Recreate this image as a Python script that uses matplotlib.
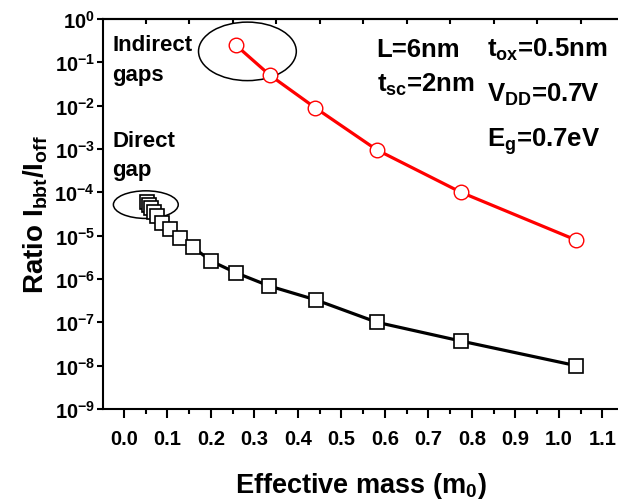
import matplotlib
matplotlib.use('Agg')
import matplotlib.pyplot as plt
from matplotlib.patches import Ellipse
from matplotlib.ticker import FixedLocator, NullLocator, FixedFormatter
import numpy as np

plt.rcParams['font.family'] = ['Liberation Sans', 'DejaVu Sans']
plt.rcParams['font.weight'] = 'bold'
plt.rcParams['axes.labelweight'] = 'bold'
plt.rcParams['mathtext.fontset'] = 'custom'
plt.rcParams['mathtext.rm'] = 'Liberation Sans:bold'
plt.rcParams['mathtext.it'] = 'Liberation Sans:bold'
plt.rcParams['mathtext.bf'] = 'Liberation Sans:bold'
plt.rcParams['mathtext.default'] = 'rm'

# indirect gaps (red circles)
m_ind = [0.257, 0.335, 0.44, 0.581, 0.775, 1.04]
r_ind = [2.5e-1, 5.1e-2, 8.9e-3, 9.6e-4, 1.0e-4, 7.9e-6]

# direct gap (black squares)
m_dir = [0.052, 0.058, 0.063, 0.069, 0.076, 0.088, 0.105, 0.128, 0.159,
         0.200, 0.257, 0.334, 0.441, 0.582, 0.775, 1.04]
r_dir = [6.0e-5, 5.1e-5, 4.3e-5, 3.6e-5, 2.9e-5, 2.0e-5, 1.4e-5, 8.7e-6,
         5.4e-6, 2.6e-6, 1.4e-6, 6.9e-7, 3.3e-7, 1.0e-7, 3.7e-8, 1.0e-8]

xticks = [0.0, 0.1, 0.2, 0.3, 0.4, 0.5, 0.6, 0.7, 0.8, 0.9, 1.0, 1.1]
xtick_labels = ['0.0', '0.1', '0.2', '0.3', '0.4', '0.5', '0.6', '0.7', '0.8', '0.9', '1.0', '1.1']
exps = [-9, -8, -7, -6, -5, -4, -3, -2, -1, 0]
yticks = [10.0**e for e in exps]
ytick_labels = [r'$10^{%d}$' % e for e in exps]

fig = plt.figure(figsize=(6.18, 5.02), dpi=100)
ax = fig.add_axes([103.3/618, 92/502, (618-103.3)/618, 390/502])

ax.plot(m_dir, r_dir, color='black', lw=2.3, marker='s', ms=9.5,
        mfc='white', mec='black', mew=1.2, zorder=3)
ax.plot(m_ind, r_ind, color='#ff0000', lw=2.3, marker='o', ms=10.5,
        mfc='white', mec='#ff0000', mew=1.0, zorder=3)

ax.set_yscale('log')
ax.set_xlim(-0.0476, 1.136)
ax.set_ylim(1e-9, 1e0)

ax.xaxis.set_major_locator(FixedLocator(xticks))
ax.xaxis.set_major_formatter(FixedFormatter(xtick_labels))
ax.xaxis.set_minor_locator(FixedLocator(np.arange(0.05, 1.13, 0.1)))
ax.yaxis.set_major_locator(FixedLocator(yticks))
ax.yaxis.set_major_formatter(FixedFormatter(ytick_labels))
ax.yaxis.set_minor_locator(NullLocator())

for s in ['left', 'bottom', 'top']:
    ax.spines[s].set_linewidth(1.5)
ax.spines['right'].set_visible(False)

ax.tick_params(axis='x', which='major', direction='out', length=6.5, width=1.5,
               labelsize=14.5, pad=8)
ax.tick_params(axis='x', which='minor', direction='out', length=3.5, width=1.5)
ax.tick_params(axis='y', which='major', direction='out', length=4.5, width=1.5,
               labelsize=14.5, pad=1.5)

top = ax.secondary_xaxis('top')
top.set_xticks(np.arange(0.05, 1.13, 0.1))
top.tick_params(direction='in', length=3.5, width=1.5, labeltop=False)
top.spines['top'].set_linewidth(1.5)

ax.set_xlabel(r'Effective mass (m$_0$)', fontsize=19.5, fontweight='bold')
ax.xaxis.set_label_coords(0.5, -0.156)
ax.set_ylabel(r'Ratio I$_{bbt}$/I$_{off}$', fontsize=20, fontweight='bold')
ax.yaxis.set_label_coords(-0.104, 0.5)

ax.add_patch(Ellipse((0.280, 0.917), 0.190, 0.150, transform=ax.transAxes,
                     fill=False, ec='black', lw=1.1))
ax.add_patch(Ellipse((0.0826, 0.524), 0.126, 0.0708, transform=ax.transAxes,
                     fill=False, ec='black', lw=1.1))

ax.text(0.0175, 0.9205, 'Indirect', transform=ax.transAxes, fontsize=16, va='baseline')
ax.text(0.0175, 0.8436, 'gaps', transform=ax.transAxes, fontsize=16, va='baseline')
ax.text(0.0175, 0.675, 'Direct', transform=ax.transAxes, fontsize=16, va='baseline')
ax.text(0.0175, 0.600, 'gap', transform=ax.transAxes, fontsize=16, va='baseline')

ax.text(0.531, 0.9059, 'L=6nm', transform=ax.transAxes, fontsize=18.5, va='baseline')
ax.text(0.531, 0.816, r't$_{sc}$=2nm', transform=ax.transAxes, fontsize=18.5, va='baseline')
ax.text(0.745, 0.9059, r't$_{ox}$=0.5nm', transform=ax.transAxes, fontsize=18.5, va='baseline')
ax.text(0.745, 0.7905, r'V$_{DD}$=0.7V', transform=ax.transAxes, fontsize=18.5, va='baseline')
ax.text(0.745, 0.675, r'E$_g$=0.7eV', transform=ax.transAxes, fontsize=18.5, va='baseline')

fig.savefig('out.png', dpi=100)
